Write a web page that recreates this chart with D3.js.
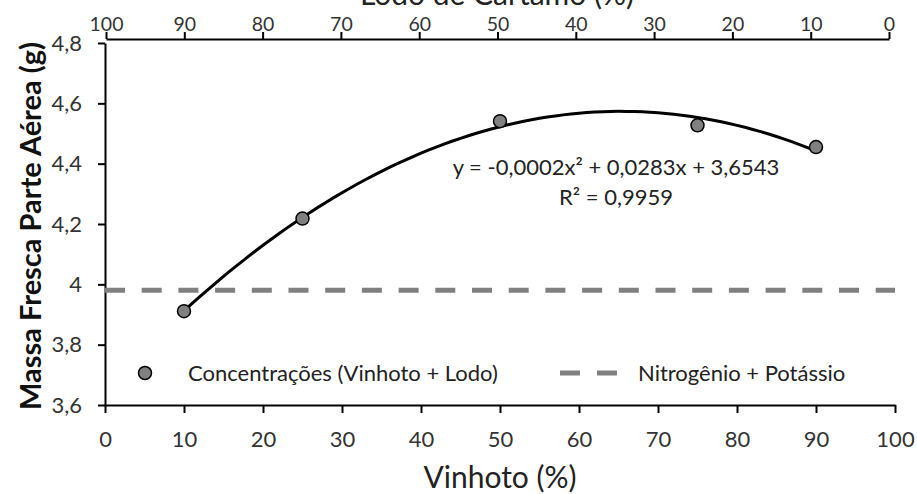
<!DOCTYPE html>
<html>
<head>
<meta charset="utf-8">
<script src="https://cdn.jsdelivr.net/npm/d3@7"></script>
<style>
  body { margin: 0; background: #fff; }
  svg { display: block; font-family: Lato, "Open Sans", sans-serif; }
</style>
</head>
<body>
<div id="chart-container"></div>
<script>

// data
const vinhoto = [10, 25, 50, 75, 90]
const massa = [3.911, 4.218, 4.541, 4.527, 4.455]
const referencia = 3.98   // Nitrogênio + Potássio

const xTicks = [0, 10, 20, 30, 40, 50, 60, 70, 80, 90, 100]
const lodoTicks = [100, 90, 80, 70, 60, 50, 40, 30, 20, 10, 0]
const yTicks = [3.6, 3.8, 4, 4.2, 4.4, 4.6, 4.8]
const yTickLabels = ['3,6', '3,8', '4', '4,2', '4,4', '4,6', '4,8']

const legendLabels = ['Concentrações (Vinhoto + Lodo)', 'Nitrogênio + Potássio']
const equationText = ['y = -0,0002x² + 0,0283x + 3,6543', 'R² = 0,9959']

width = 917
height = 494

const svg = d3.select('#chart-container')
    .append('svg')
    .attr('width', width)
    .attr('height', height)

let xScale = d3.scaleLinear().domain([0, 100]).range([105, 895])
let xTop = d3.scaleLinear().domain([100, 0]).range([106, 889])
let yScale = d3.scaleLinear().domain([3.6, 4.8]).range([405, 43])

// axes
let styleAxis = g => {
    g.selectAll('path, line').attr('stroke', '#000').attr('stroke-width', 2)
    g.selectAll('text').attr('fill', '#333').attr('font-family', 'Lato, "Open Sans", sans-serif')
}

svg.append('g')
    .attr('transform', 'translate(105, 0)')
    .call(d3.axisLeft(yScale)
        .tickValues(yTicks)
        .tickFormat((d, i) => yTickLabels[i])
        .tickSize(7).tickSizeOuter(0).tickPadding(16))
    .call(styleAxis)
    .selectAll('text').attr('font-size', 22)

svg.append('g')
    .attr('transform', 'translate(0, 405)')
    .call(d3.axisBottom(xScale)
        .tickValues(xTicks)
        .tickSize(8).tickSizeOuter(0).tickPadding(18))
    .call(styleAxis)
    .selectAll('text').attr('font-size', 22)

svg.append('g')
    .attr('transform', 'translate(0, 39)')
    .call(d3.axisTop(xTop)
        .tickValues(lodoTicks)
        .tickSize(7).tickSizeOuter(0).tickPadding(1))
    .call(styleAxis)
    .selectAll('text').attr('font-size', 19.5)

// reference line
svg.append('line')
    .attr('x1', xScale(0))
    .attr('x2', xScale(100))
    .attr('y1', yScale(referencia))
    .attr('y2', yScale(referencia))
    .attr('stroke', '#808080')
    .attr('stroke-width', 5)
    .attr('stroke-dasharray', '20,16.7')

// quadratic trend line, least squares fit of the points
let fit = (xs, ys) => {
    let s = k => d3.sum(xs, x => Math.pow(x, k))
    let t = k => d3.sum(xs, (x, i) => Math.pow(x, k) * ys[i])
    let A = [[s(4), s(3), s(2), t(2)], [s(3), s(2), s(1), t(1)], [s(2), s(1), xs.length, t(0)]]
    for (let i = 0; i < 3; i++) {
        for (let j = i + 1; j < 3; j++) {
            let f = A[j][i] / A[i][i]
            for (let k = i; k < 4; k++) A[j][k] -= f * A[i][k]
        }
    }
    let c = [0, 0, 0]
    for (let i = 2; i >= 0; i--) {
        let v = A[i][3]
        for (let k = i + 1; k < 3; k++) v -= A[i][k] * c[k]
        c[i] = v / A[i][i]
    }
    return x => c[0] * x * x + c[1] * x + c[2]
}
let trend = fit(vinhoto, massa)
let curveX = d3.range(vinhoto[0], vinhoto[vinhoto.length - 1] + 0.5, 1)

svg.append('path')
    .datum(curveX)
    .attr('fill', 'none')
    .attr('stroke', '#000')
    .attr('stroke-width', 3)
    .attr('d', d3.line().x(d => xScale(d)).y(d => yScale(trend(d))))

svg.selectAll('circle.pt')
    .data(vinhoto)
    .enter()
    .append('circle')
    .attr('class', 'pt')
    .attr('cx', d => xScale(d))
    .attr('cy', (d, i) => yScale(massa[i]))
    .attr('r', 6.5)
    .attr('fill', '#808080')
    .attr('stroke', '#000')
    .attr('stroke-width', 1.5)

// equation
svg.selectAll('text.eq')
    .data(equationText)
    .enter()
    .append('text')
    .attr('class', 'eq')
    .attr('x', 616)
    .attr('y', (d, i) => 175 + i * 30)
    .attr('text-anchor', 'middle')
    .attr('font-size', 22)
    .attr('fill', '#222')
    .text(d => d)

// legend
svg.append('circle')
    .attr('cx', 145).attr('cy', 373).attr('r', 6.5)
    .attr('fill', '#808080').attr('stroke', '#000').attr('stroke-width', 1.5)
svg.append('line')
    .attr('x1', 560).attr('x2', 617).attr('y1', 373).attr('y2', 373)
    .attr('stroke', '#808080').attr('stroke-width', 5)
    .attr('stroke-dasharray', '20,17')
svg.selectAll('text.leg')
    .data(legendLabels)
    .enter()
    .append('text')
    .attr('class', 'leg')
    .attr('x', (d, i) => i == 0 ? 188 : 638)
    .attr('y', 381)
    .attr('font-size', 22)
    .attr('fill', '#222')
    .text(d => d)

// axis titles
svg.append('text')
    .attr('x', 500).attr('y', 488)
    .attr('text-anchor', 'middle')
    .attr('font-size', 30)
    .attr('fill', '#222')
    .text('Vinhoto (%)')

svg.append('text')
    .attr('x', 497).attr('y', 5)
    .attr('text-anchor', 'middle')
    .attr('font-size', 30)
    .attr('fill', '#222')
    .text('Lodo de Cártamo (%)')

svg.append('text')
    .attr('transform', 'translate(41, 226) rotate(-90)')
    .attr('text-anchor', 'middle')
    .attr('font-size', 29)
    .attr('font-weight', 'bold')
    .attr('fill', '#111')
    .text('Massa Fresca Parte Aérea (g)')

</script>
</body>
</html>
